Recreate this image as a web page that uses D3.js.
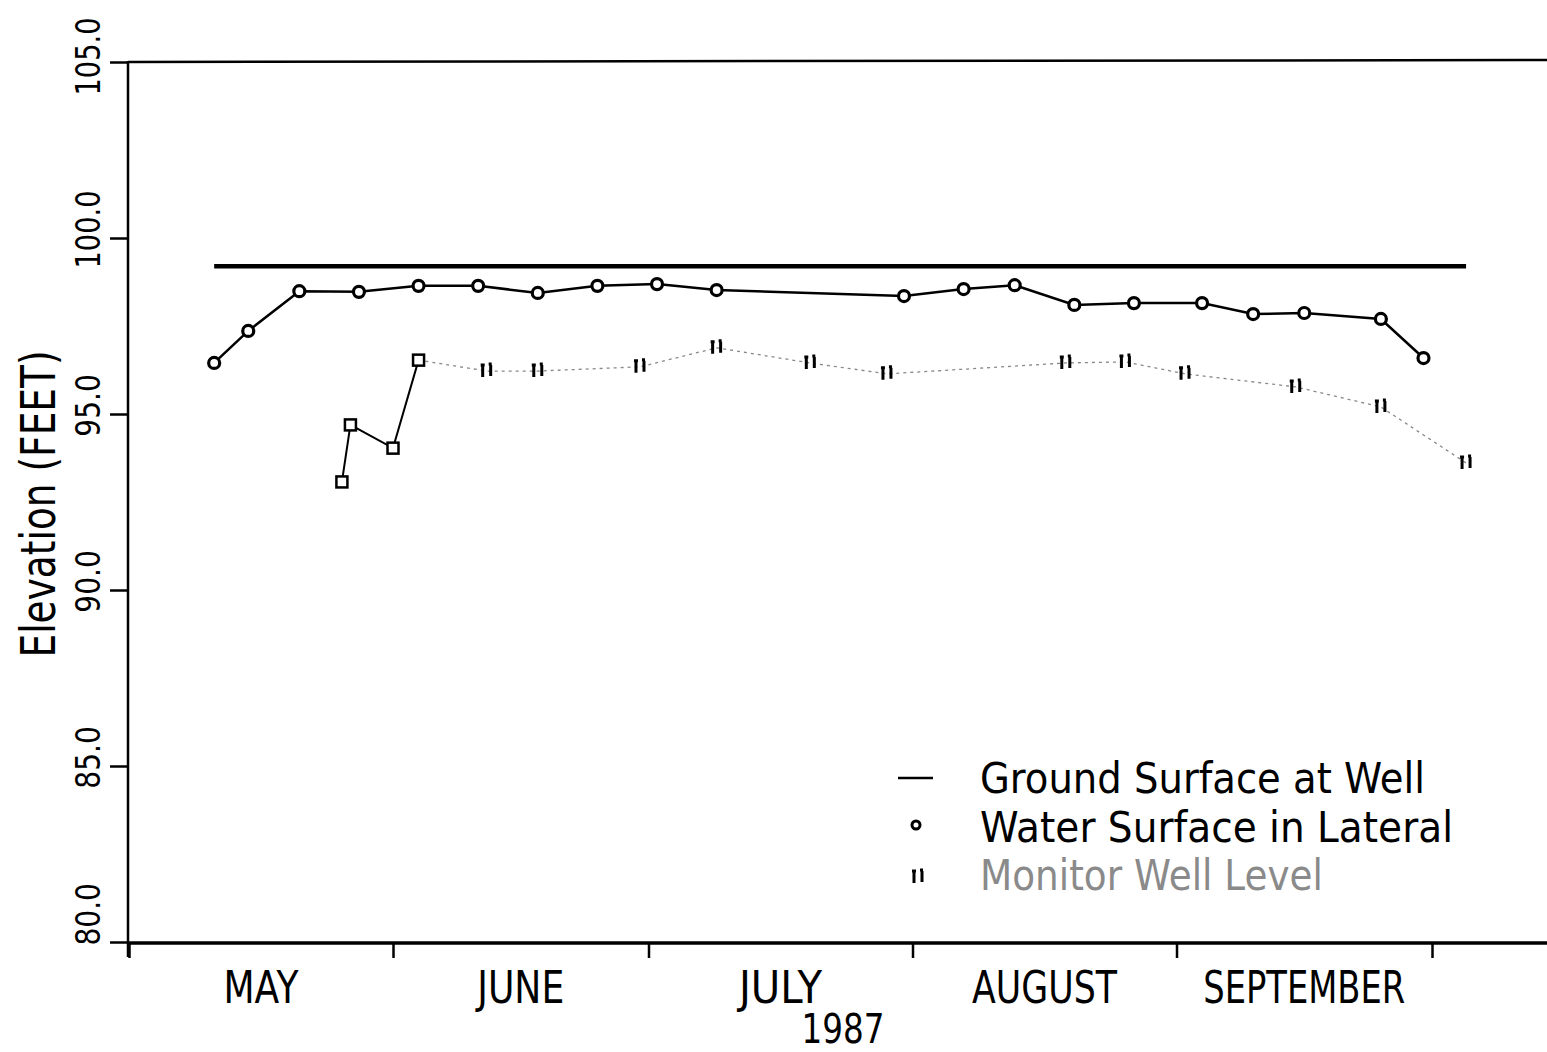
<!DOCTYPE html>
<html>
<head>
<meta charset="utf-8">
<script src="https://cdn.jsdelivr.net/npm/d3@7"></script>
<style>
  body { margin: 0; background: #fff; }
  svg { display: block; }
  text { font-family: "DejaVu Sans", sans-serif; fill: #000; }
</style>
</head>
<body>
<div id="chart-area"></div>
<script>
// ---- data ----
const monthNames = ["MAY", "JUNE", "JULY", "AUGUST", "SEPTEMBER"];
const monthStarts = ["05-01", "06-01", "07-01", "08-01", "09-01", "10-01"];
const yTicks = [80, 85, 90, 95, 100, 105];
const yearLabel = "1987";

// ground surface at well
const groundDates = ["05-11", "10-05"];
const groundValues = [99.2, 99.2];

// water surface in lateral (circles)
const lateralDates = ["05-11", "05-15", "05-21", "05-28", "06-04", "06-11", "06-18",
    "06-25", "07-02", "07-09", "07-31", "08-07", "08-13", "08-20", "08-27",
    "09-04", "09-10", "09-16", "09-25", "09-30"];
const lateralValues = [96.45, 97.36, 98.49, 98.47, 98.64, 98.64, 98.44,
    98.64, 98.69, 98.52, 98.35, 98.55, 98.66, 98.10, 98.15,
    98.15, 97.84, 97.87, 97.70, 96.59];

// monitor well level - first readings (squares, solid line)
const wellEarlyDates = ["05-26", "05-27", "06-01", "06-04"];
const wellEarlyValues = [93.07, 94.69, 94.03, 96.53];

// monitor well level - later readings (dotted line)
const wellDates = ["06-04", "06-12", "06-18", "06-30", "07-09", "07-20", "07-29",
    "08-19", "08-26", "09-02", "09-15", "09-25", "10-05"];
const wellValues = [96.53, 96.22, 96.22, 96.34, 96.88, 96.45, 96.14,
    96.45, 96.48, 96.14, 95.77, 95.20, 93.61];

const legendLabels = ["Ground Surface at Well", "Water Surface in Lateral", "Monitor Well Level"];

// ---- layout ----
const width = 1547, height = 1052;
const parse = d3.timeParse("%Y-%m-%d");
const day = s => parse("1987-" + s);

const svg = d3.select("#chart-area")
    .append("svg")
    .attr("width", width)
    .attr("height", height);

const x = d3.scaleTime()
    .domain([day("05-01"), day("10-01")])
    .range([129, 1432]);

const y = d3.scaleLinear()
    .domain([80, 105])
    .range([942, 62]);

const zip = (ds, vs) => ds.map((d, i) => ({date: day(d), value: vs[i]}));

// frame lines
svg.append("line")
    .attr("x1", 128).attr("x2", width)
    .attr("y1", y(105)).attr("y2", y(105) - 2)
    .attr("stroke", "#000").attr("stroke-width", 2.5);
svg.append("line")
    .attr("x1", 128).attr("x2", width)
    .attr("y1", y(80) + 1).attr("y2", y(80) + 1)
    .attr("stroke", "#000").attr("stroke-width", 3.5);
svg.append("line")
    .attr("x1", 128).attr("x2", 128)
    .attr("y1", y(105) - 1).attr("y2", 957)
    .attr("stroke", "#000").attr("stroke-width", 2.5);

// y axis
const yAxis = svg.append("g")
    .attr("transform", "translate(128,0)")
    .call(d3.axisLeft(y).tickValues(yTicks).tickSize(18).tickFormat(d3.format(".1f")));
yAxis.select(".domain").remove();
yAxis.selectAll(".tick line").attr("stroke-width", 2.5);
yAxis.selectAll(".tick text")
    .attr("font-size", 33)
    .attr("font-family", "DejaVu Sans, sans-serif")
    .attr("fill", "#000")
    .attr("transform", "rotate(-90)")
    .attr("dy", 0)
    .attr("y", -28)
    .attr("x", d => d === 80 ? -3 : (d === 105 ? 6 : 9))
    .attr("text-anchor", d => d === 80 ? "start" : "middle")
    .attr("textLength", function() { return this.textContent.length * 15.6; })
    .attr("lengthAdjust", "spacingAndGlyphs");

svg.append("text")
    .attr("transform", "translate(55,504) rotate(-90)")
    .attr("text-anchor", "middle")
    .attr("font-size", 48)
    .attr("textLength", 307)
    .attr("lengthAdjust", "spacingAndGlyphs")
    .text("Elevation (FEET)");

// x axis ticks
const xAxis = svg.append("g")
    .attr("transform", "translate(0," + (y(80) + 1) + ")")
    .call(d3.axisBottom(x).tickValues(monthStarts.map(day)).tickSize(15).tickFormat(""));
xAxis.select(".domain").remove();
xAxis.selectAll(".tick line").attr("stroke-width", 2.5);

const monthWidths = [75, 87, 83, 145, 202];
svg.selectAll(".month")
    .data(monthNames)
    .enter()
    .append("text")
    .attr("class", "month")
    .attr("x", (m, i) => (x(day(monthStarts[i])) + x(day(monthStarts[i + 1]))) / 2)
    .attr("y", 1003)
    .attr("text-anchor", "middle")
    .attr("font-size", 45)
    .attr("textLength", (m, i) => monthWidths[i])
    .attr("lengthAdjust", "spacingAndGlyphs")
    .text(m => m);

svg.append("text")
    .attr("x", 843).attr("y", 1043)
    .attr("text-anchor", "middle")
    .attr("font-family", "Liberation Sans, sans-serif")
    .attr("font-size", 40)
    .attr("textLength", 83)
    .attr("lengthAdjust", "spacingAndGlyphs")
    .text(yearLabel);

// lines
const line = d3.line().x(d => x(d.date)).y(d => y(d.value));

svg.append("path")
    .datum(zip(groundDates, groundValues))
    .attr("d", line)
    .attr("fill", "none")
    .attr("stroke", "#000")
    .attr("stroke-width", 4.5);

svg.append("path")
    .datum(zip(wellDates, wellValues))
    .attr("d", line)
    .attr("fill", "none")
    .attr("stroke", "#888")
    .attr("stroke-width", 1.3)
    .attr("stroke-dasharray", "3,4");

svg.append("path")
    .datum(zip(wellEarlyDates, wellEarlyValues))
    .attr("d", line)
    .attr("fill", "none")
    .attr("stroke", "#000")
    .attr("stroke-width", 2);

svg.append("path")
    .datum(zip(lateralDates, lateralValues))
    .attr("d", line)
    .attr("fill", "none")
    .attr("stroke", "#000")
    .attr("stroke-width", 2.5);

// markers
const brokenSquare = "M-4,-6V6M4,-6V5M-6,-6H-2M2,-7H5";

svg.selectAll(".lat")
    .data(zip(lateralDates, lateralValues))
    .enter()
    .append("circle")
    .attr("class", "lat")
    .attr("cx", d => x(d.date))
    .attr("cy", d => y(d.value))
    .attr("r", 5.5)
    .attr("fill", "#fff")
    .attr("stroke", "#000")
    .attr("stroke-width", 3.2);

svg.selectAll(".sq")
    .data(zip(wellEarlyDates, wellEarlyValues))
    .enter()
    .append("rect")
    .attr("class", "sq")
    .attr("x", d => x(d.date) - 5.5)
    .attr("y", d => y(d.value) - 5.5)
    .attr("width", 11)
    .attr("height", 11)
    .attr("fill", "#fff")
    .attr("stroke", "#000")
    .attr("stroke-width", 2.5);

svg.selectAll(".well")
    .data(zip(wellDates, wellValues).slice(1))
    .enter()
    .append("path")
    .attr("class", "well")
    .attr("transform", d => "translate(" + x(d.date) + "," + y(d.value) + ")")
    .attr("d", brokenSquare)
    .attr("fill", "none")
    .attr("stroke", "#000")
    .attr("stroke-width", 3);

// legend
const legend = svg.append("g").attr("transform", "translate(916,0)");
legend.append("line")
    .attr("x1", -18).attr("x2", 17)
    .attr("y1", 778).attr("y2", 778)
    .attr("stroke", "#000").attr("stroke-width", 2.5);
legend.append("circle")
    .attr("cx", 0).attr("cy", 825).attr("r", 4)
    .attr("fill", "#fff").attr("stroke", "#000").attr("stroke-width", 3);
legend.append("path")
    .attr("transform", "translate(2,877)")
    .attr("d", brokenSquare)
    .attr("fill", "none").attr("stroke", "#000").attr("stroke-width", 3);

const legendWidths = [445, 473, 343];
const legendColors = ["#000", "#000", "#8a8a8a"];
legend.selectAll(".leg")
    .data(legendLabels)
    .enter()
    .append("text")
    .attr("class", "leg")
    .attr("x", 64)
    .attr("y", (t, i) => 793 + i * 48.5)
    .attr("font-family", "Liberation Sans, sans-serif")
    .attr("font-size", 42)
    .attr("textLength", (t, i) => legendWidths[i])
    .attr("lengthAdjust", "spacingAndGlyphs")
    .style("fill", (t, i) => legendColors[i])
    .text(t => t);
</script>
</body>
</html>
